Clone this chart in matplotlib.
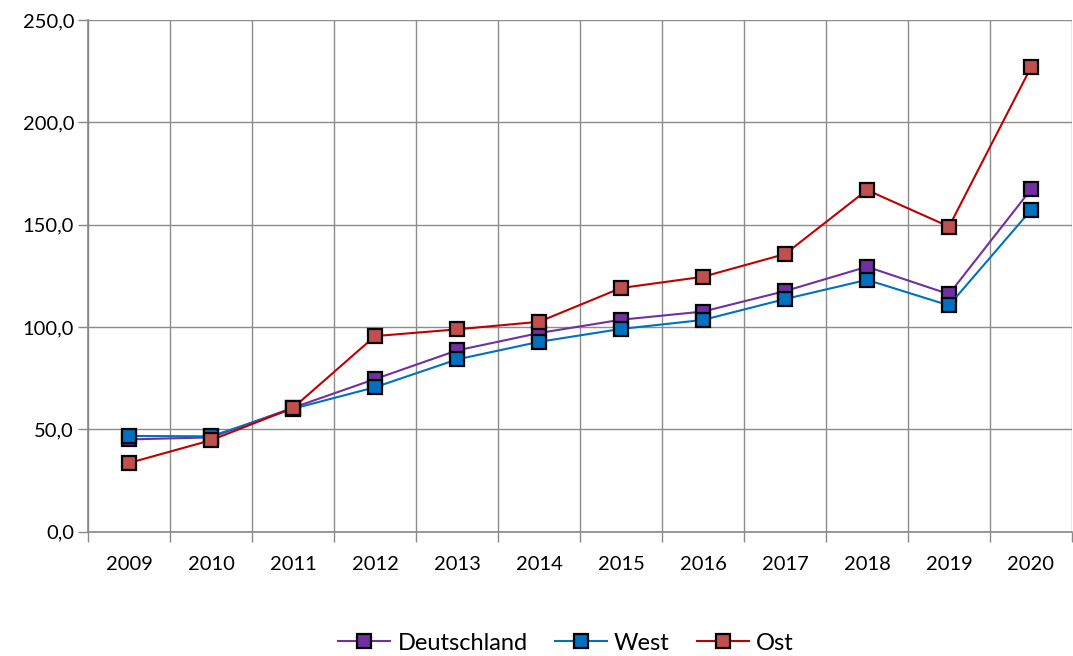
import matplotlib
matplotlib.use("Agg")
import matplotlib.pyplot as plt
import numpy as np

years = ["2009", "2010", "2011", "2012", "2013", "2014", "2015", "2016", "2017", "2018", "2019", "2020"]
deutschland = [45.0, 46.0, 60.5, 74.5, 88.5, 97.0, 103.5, 107.5, 117.5, 129.4, 116.0, 167.2]
west = [46.7, 46.5, 60.0, 70.5, 84.1, 92.7, 99.0, 103.4, 113.6, 123.0, 110.5, 157.1]
ost = [33.5, 44.6, 60.4, 95.5, 98.8, 102.5, 119.0, 124.5, 135.6, 166.9, 149.0, 226.9]

series = [
    ("Deutschland", deutschland, "#7030A0", "#7030A0"),
    ("West", west, "#0070C0", "#0070C0"),
    ("Ost", ost, "#C00000", "#C0504D"),
]

plt.rcParams['font.family'] = ['Lato', 'DejaVu Sans']

fig = plt.figure(figsize=(10.73, 6.56), dpi=100)
ax = fig.add_axes([88/1073, 1-531.5/656, (1072-88)/1073, (531.5-20)/656])

x = np.arange(len(years))
handles = []
for name, vals, lc, fc in series:
    h, = ax.plot(x, vals, color=lc, lw=1.5, marker='s', markersize=10,
                 markerfacecolor=fc, markeredgecolor='black', markeredgewidth=1.6,
                 label=name, zorder=3)
    handles.append(h)

ax.set_xlim(-0.5, len(years) - 0.5)
ax.set_ylim(0, 250)
ax.set_yticks(np.arange(0, 251, 50))
ax.set_yticklabels([f"{v:.1f}".replace('.', ',') for v in np.arange(0, 251, 50)])
ax.set_xticks(x)
ax.set_xticklabels(years)
ax.set_xticks(np.arange(-0.5, len(years), 1), minor=True)

ax.tick_params(axis='x', which='major', length=0, pad=18, labelsize=14.5, colors='black')
ax.tick_params(axis='x', which='minor', length=7, width=1, color='#888888', direction='out')
ax.tick_params(axis='y', which='major', length=7, width=1, color='#888888', direction='out',
               labelsize=14.5, pad=3, labelcolor='black')

ax.grid(True, which='major', axis='y', color='#8c8c8c', lw=1)
ax.grid(True, which='minor', axis='x', color='#8c8c8c', lw=1)
ax.set_axisbelow(True)

for s in ['top', 'right']:
    ax.spines[s].set_visible(False)
for s in ['left', 'bottom']:
    ax.spines[s].set_color('#888888')
    ax.spines[s].set_linewidth(1.2)

leg = fig.legend(handles=handles, loc='center', bbox_to_anchor=(566/1073, 1-643/656), ncol=3,
                 frameon=False, fontsize=17, handlelength=2.2, columnspacing=1.15,
                 handletextpad=0.3, markerscale=0.95, borderpad=0.0)
for t in leg.get_texts():
    t.set_color('black')

fig.savefig("out.png", dpi=100)
